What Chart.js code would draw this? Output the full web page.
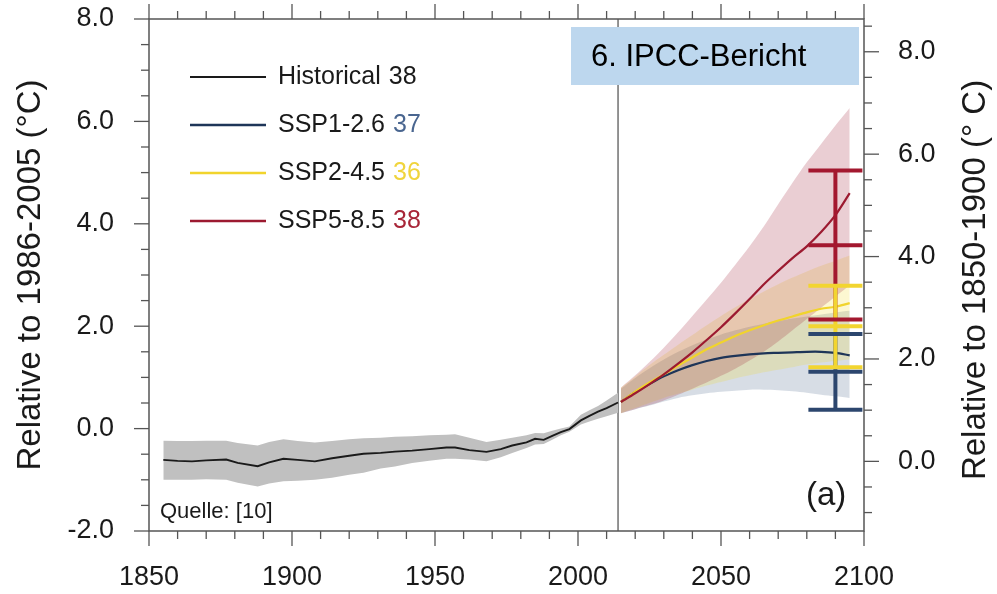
<!DOCTYPE html>
<html>
<head>
<meta charset="utf-8">
<title>Globale Temperatur – CMIP6</title>
<script src="https://cdn.jsdelivr.net/npm/chart.js@4.4.1/dist/chart.umd.min.js"></script>
<style>
    html, body { margin: 0; padding: 0; background: #fff; }
    #wrap { width: 997px; height: 594px; }
</style>
</head>
<body>
<div id="wrap"><canvas id="tempChart"></canvas></div>
<script>
// historical run (relative to 1986-2005)
const histYears = [1855, 1860, 1865, 1870, 1877, 1881, 1888, 1892, 1897, 1902, 1908, 1914, 1920, 1925,
    1931, 1936, 1942, 1948, 1954, 1957, 1962, 1968, 1973, 1977, 1982, 1985, 1988, 1991, 1994, 1997,
    2001, 2004, 2007, 2010, 2014];
const histMean = [-0.61, -0.63, -0.64, -0.62, -0.605, -0.67, -0.735, -0.66, -0.59, -0.61, -0.64, -0.58, -0.53, -0.49,
    -0.475, -0.45, -0.43, -0.40, -0.37, -0.37, -0.42, -0.455, -0.40, -0.33, -0.27, -0.20, -0.22, -0.14, -0.07, -0.01,
    0.16, 0.25, 0.33, 0.40, 0.51];
const histUpper = [-0.235, -0.24, -0.24, -0.235, -0.235, -0.28, -0.33, -0.26, -0.21, -0.24, -0.27, -0.24, -0.21, -0.19,
    -0.18, -0.16, -0.15, -0.13, -0.12, -0.11, -0.18, -0.26, -0.22, -0.18, -0.13, -0.085, -0.09, -0.04, 0.0, 0.04,
    0.27, 0.36, 0.44, 0.55, 0.70];
const histLower = [-1.0, -1.0, -1.0, -0.99, -1.0, -1.06, -1.13, -1.07, -1.03, -1.02, -1.0, -0.96, -0.90, -0.86,
    -0.78, -0.74, -0.67, -0.63, -0.59, -0.59, -0.605, -0.64, -0.56, -0.475, -0.38, -0.31, -0.30, -0.22, -0.13, -0.06,
    0.08, 0.14, 0.19, 0.24, 0.31];

// scenarios
const projYears = [2015, 2020, 2025, 2030, 2035, 2040, 2045, 2050, 2055, 2060, 2065, 2070, 2075, 2080, 2085, 2090, 2095];

const ssp126Mean  = [0.52, 0.71, 0.87, 1.02, 1.14, 1.24, 1.32, 1.38, 1.42, 1.45, 1.47, 1.48, 1.49, 1.50, 1.50, 1.48, 1.43];
const ssp126Upper = [0.78, 0.99, 1.18, 1.35, 1.50, 1.63, 1.74, 1.84, 1.92, 1.99, 2.05, 2.10, 2.15, 2.19, 2.23, 2.27, 2.30];
const ssp126Lower = [0.30, 0.38, 0.45, 0.53, 0.60, 0.65, 0.69, 0.72, 0.74, 0.76, 0.76, 0.75, 0.73, 0.70, 0.66, 0.63, 0.60];

const ssp245Mean  = [0.52, 0.72, 0.90, 1.06, 1.23, 1.39, 1.55, 1.68, 1.81, 1.92, 2.02, 2.11, 2.19, 2.27, 2.34, 2.38, 2.45];
const ssp245Upper = [0.80, 1.02, 1.24, 1.44, 1.64, 1.83, 2.02, 2.20, 2.37, 2.53, 2.68, 2.82, 2.95, 3.07, 3.18, 3.28, 3.38];
const ssp245Lower = [0.30, 0.40, 0.50, 0.60, 0.68, 0.76, 0.84, 0.91, 0.98, 1.04, 1.10, 1.15, 1.20, 1.25, 1.29, 1.32, 1.35];

const ssp585Mean  = [0.52, 0.69, 0.87, 1.06, 1.27, 1.49, 1.73, 1.98, 2.25, 2.53, 2.82, 3.08, 3.33, 3.56, 3.84, 4.17, 4.60];
const ssp585Upper = [0.80, 1.04, 1.30, 1.58, 1.88, 2.20, 2.52, 2.85, 3.20, 3.56, 3.95, 4.38, 4.80, 5.20, 5.56, 5.92, 6.26];
const ssp585Lower = [0.30, 0.38, 0.46, 0.55, 0.66, 0.78, 0.90, 1.03, 1.17, 1.33, 1.50, 1.70, 1.92, 2.14, 2.36, 2.58, 2.80];

// 2081-2100 ranges: SSP1-2.6, SSP2-4.5, SSP5-8.5
const errYear = 2090;
const errLow  = [0.37, 1.20, 2.13];
const errMid  = [1.11, 2.00, 3.58];
const errHigh = [1.85, 2.79, 5.04];

const splitYear = 2014;
const baselineShift = 0.64;   // 1850-1900 vs 1986-2005
const rightTicks = [0, 2, 4, 6, 8];

const legendNames = ['Historical', 'SSP1-2.6', 'SSP2-4.5', 'SSP5-8.5'];
const modelCounts = [38, 37, 36, 38];

const lineColors  = ['#1a1a1a', '#1e3558', '#f1d42c', '#9c1a30'];
const countColors = ['#1a1a1a', '#4a6690', '#f0d43c', '#a82638'];
const bandColors  = ['#c0c0c0', 'rgba(35,65,110,0.18)', 'rgba(240,215,40,0.21)', 'rgba(160,30,55,0.22)'];
const errColors   = ['#2c466e', '#f2d530', '#a3182f'];

const fontFamily = '"Liberation Sans", Arial, Helvetica, sans-serif';
const textColor = '#1a1a1a';
const frameColor = '#555555';

function pts(xs, ys) {
    return xs.map((x, i) => ({ x: x, y: ys[i] }));
}

// back to front
const layers = [
    { data: pts(histYears, histUpper), band: 'top', tension: 0 },
    { data: pts(histYears, histLower), band: 'bottom', color: bandColors[0], tension: 0 },
    { data: pts(projYears, ssp126Upper), band: 'top', tension: 0.3 },
    { data: pts(projYears, ssp126Lower), band: 'bottom', color: bandColors[1], tension: 0.3 },
    { data: pts(projYears, ssp245Upper), band: 'top', tension: 0.3 },
    { data: pts(projYears, ssp245Lower), band: 'bottom', color: bandColors[2], tension: 0.3 },
    { data: pts(projYears, ssp585Upper), band: 'top', tension: 0.3 },
    { data: pts(projYears, ssp585Lower), band: 'bottom', color: bandColors[3], tension: 0.3 },
    { data: pts(histYears, histMean), color: lineColors[0], width: 1.9, tension: 0 },
    { data: pts(projYears, ssp126Mean), color: lineColors[1], width: 2.2, tension: 0.3 },
    { data: pts(projYears, ssp245Mean), color: lineColors[2], width: 2.2, tension: 0.3 },
    { data: pts(projYears, ssp585Mean), color: lineColors[3], width: 2.2, tension: 0.3 }
];

const datasets = layers.map((l, i) => {
    const ds = {
        data: l.data,
        order: layers.length - i,
        pointRadius: 0,
        tension: l.tension,
        yAxisID: 'y'
    };
    if (l.band) {
        ds.borderColor = 'transparent';
        ds.borderWidth = 0;
        ds.fill = l.band === 'bottom' ? '-1' : false;
        ds.backgroundColor = l.color || 'transparent';
    } else {
        ds.borderColor = l.color;
        ds.borderWidth = l.width;
        ds.fill = false;
    }
    return ds;
});

function tickMarks(ctx, scale, from, to, step, majorEvery, horizontal, edge, dir) {
    for (let v = from; v <= to + 1e-9; v += step) {
        const p = scale.getPixelForValue(v);
        const major = Math.abs(v / majorEvery - Math.round(v / majorEvery)) < 1e-6;
        const len = major ? 15 : 8;
        ctx.beginPath();
        if (horizontal) {
            ctx.moveTo(p, edge);
            ctx.lineTo(p, edge + dir * len);
        } else {
            ctx.moveTo(edge, p);
            ctx.lineTo(edge + dir * len, p);
        }
        ctx.stroke();
    }
}

const extras = {
    id: 'extras',
    beforeDatasetsDraw(chart) {
        const { ctx, chartArea: a, scales: { x } } = chart;
        const px = x.getPixelForValue(splitYear);
        ctx.save();
        ctx.strokeStyle = '#707070';
        ctx.lineWidth = 1.5;
        ctx.beginPath();
        ctx.moveTo(px, a.top);
        ctx.lineTo(px, a.bottom);
        ctx.stroke();
        ctx.restore();
    },
    afterDatasetsDraw(chart) {
        const { ctx, scales: { x, y } } = chart;
        const px = x.getPixelForValue(errYear);
        const half = 27;
        ctx.save();
        ctx.lineWidth = 4;
        ctx.lineCap = 'butt';
        // verticals: blue, red, yellow on top
        [0, 2, 1].forEach(i => {
            ctx.strokeStyle = errColors[i];
            ctx.beginPath();
            ctx.moveTo(px, y.getPixelForValue(errLow[i]));
            ctx.lineTo(px, y.getPixelForValue(errHigh[i]));
            ctx.stroke();
        });
        [0, 1, 2].forEach(i => {
            ctx.strokeStyle = errColors[i];
            [errLow[i], errMid[i], errHigh[i]].forEach(v => {
                const py = y.getPixelForValue(v);
                ctx.beginPath();
                ctx.moveTo(px - half, py);
                ctx.lineTo(px + half, py);
                ctx.stroke();
            });
        });
        ctx.restore();
    },
    afterDraw(chart) {
        const { ctx, chartArea: a, scales: { x, y, y2 } } = chart;
        ctx.save();

        // frame and tick marks
        ctx.strokeStyle = frameColor;
        ctx.lineWidth = 1.5;
        ctx.strokeRect(a.left, a.top, a.right - a.left, a.bottom - a.top);
        ctx.lineWidth = 1.3;
        tickMarks(ctx, x, 1850, 2100, 10, 50, true, a.bottom, 1);
        tickMarks(ctx, x, 1850, 2100, 10, 50, true, a.top, -1);
        tickMarks(ctx, y, -2, 8, 0.5, 2, false, a.left, -1);
        tickMarks(ctx, y2, -1, 8.5, 0.5, 2, false, a.right, 1);

        // right axis title, reading upwards
        ctx.fillStyle = textColor;
        ctx.font = '33px ' + fontFamily;
        ctx.textAlign = 'center';
        ctx.textBaseline = 'middle';
        ctx.save();
        ctx.translate(976, (a.top + a.bottom) / 2 + 5);
        ctx.rotate(-Math.PI / 2);
        ctx.fillText('Relative to 1850-1900 (° C)', 0, 0);
        ctx.restore();

        // legend
        ctx.textAlign = 'left';
        ctx.font = '25px ' + fontFamily;
        legendNames.forEach((name, i) => {
            const ly = 77 + i * 48;
            ctx.strokeStyle = lineColors[i];
            ctx.lineWidth = i === 0 ? 2 : 2.4;
            ctx.beginPath();
            ctx.moveTo(190, ly);
            ctx.lineTo(266, ly);
            ctx.stroke();
            ctx.fillStyle = textColor;
            ctx.fillText(name, 278, ly);
            const w = ctx.measureText(name).width;
            ctx.fillStyle = countColors[i];
            ctx.fillText(String(modelCounts[i]), 278 + w + 8, ly);
        });

        // report label box
        ctx.fillStyle = '#bdd7ee';
        ctx.fillRect(571, 27, 288, 58);
        ctx.fillStyle = '#000';
        ctx.font = '31px ' + fontFamily;
        ctx.fillText('6. IPCC-Bericht', 591, 57);

        // panel letter and source
        ctx.fillStyle = textColor;
        ctx.font = '33px ' + fontFamily;
        ctx.fillText('(a)', 806, 496);
        ctx.font = '22px ' + fontFamily;
        ctx.fillText('Quelle: [10]', 160, 512);

        ctx.restore();
    }
};

// fixed axis boxes so the plot frame sits where the original has it
function fixVertical(width) {
    return (scale) => {
        scale.width = width;
        scale.paddingTop = 0;
        scale.paddingBottom = 0;
    };
}

const ctx = document.getElementById('tempChart').getContext('2d');

new Chart(ctx, {
    type: 'line',
    data: { datasets: datasets },
    options: {
        responsive: true,
        maintainAspectRatio: false,
        animation: false,
        devicePixelRatio: 1,
        layout: { padding: { top: 19, left: 0, right: 0, bottom: 0 } },
        plugins: {
            legend: { display: false },
            tooltip: { enabled: false }
        },
        scales: {
            x: {
                type: 'linear',
                position: 'bottom',
                min: 1850,
                max: 2100,
                grid: { display: false, drawTicks: true, tickLength: 15 },
                border: { display: false },
                ticks: {
                    stepSize: 50,
                    maxRotation: 0,
                    autoSkip: false,
                    padding: 15,
                    color: textColor,
                    font: { family: fontFamily, size: 27 },
                    callback: (v) => String(v)
                },
                afterFit: (scale) => { scale.height = 63; }
            },
            y: {
                type: 'linear',
                position: 'left',
                min: -2,
                max: 8,
                grid: { display: false, drawTicks: true, tickLength: 15 },
                border: { display: false },
                ticks: {
                    stepSize: 2,
                    padding: 20,
                    color: textColor,
                    font: { family: fontFamily, size: 27 },
                    callback: (v) => v.toFixed(1)
                },
                title: {
                    display: true,
                    text: 'Relative to 1986-2005 (°C)',
                    color: textColor,
                    font: { family: fontFamily, size: 33 },
                    padding: { top: 11, bottom: 0 }
                },
                afterFit: fixVertical(149)
            },
            y2: {
                type: 'linear',
                position: 'right',
                min: -2 + baselineShift,
                max: 8 + baselineShift,
                grid: { display: false, drawTicks: true, tickLength: 15 },
                border: { display: false },
                afterBuildTicks: (scale) => { scale.ticks = rightTicks.map(v => ({ value: v })); },
                ticks: {
                    padding: 19,
                    color: textColor,
                    font: { family: fontFamily, size: 27 },
                    callback: (v) => v.toFixed(1)
                },
                afterFit: fixVertical(133)
            }
        }
    },
    plugins: [extras]
});
</script>
</body>
</html>
